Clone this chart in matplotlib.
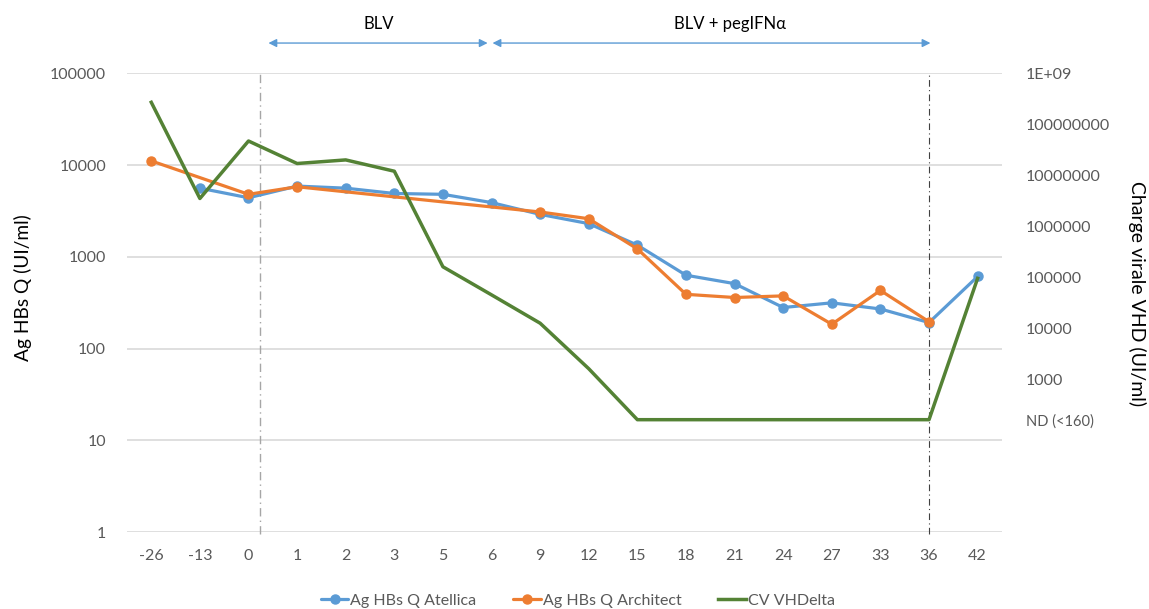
import numpy as np
import matplotlib
matplotlib.use("Agg")
import matplotlib.pyplot as plt
from matplotlib.ticker import FixedLocator, FixedFormatter, NullLocator

plt.rcParams['font.family'] = ['Lato', 'DejaVu Sans']

# ---- data ----
categories = ['-26', '-13', '0', '1', '2', '3', '5', '6', '9', '12', '15',
              '18', '21', '24', '27', '33', '36', '42']
atellica = [np.nan, 5600, 4400, 5900, 5600, 4900, 4800, 3900, 2900, 2300,
            1340, 630, 510, 280, 315, 270, 192, 610]
architect = [11100, np.nan, 4800, 5800, np.nan, np.nan, np.nan, np.nan, 3080,
             2600, 1220, 390, 360, 375, 184, 430, 196, np.nan]
cv_vhdelta = [2.7e8, 3.5e6, 4.7e7, 1.7e7, 2.0e7, 1.2e7, 1.6e5, 4.5e4, 1.25e4,
              1.6e3, 160, 160, 160, 160, 160, 160, 160, 9.5e4]
left_ticks = [1, 10, 100, 1000, 10000, 100000]
left_labels = ['1', '10', '100', '1000', '10000', '100000']
right_ticks = [160, 1e3, 1e4, 1e5, 1e6, 1e7, 1e8, 1e9]
right_labels = ['ND (<160)', '1000', '10000', '100000', '1000000',
                '10000000', '100000000', '1E+09']
series_names = ['Ag HBs Q Atellica', 'Ag HBs Q Architect', 'CV VHDelta']
phases = ['BLV', 'BLV + pegIFNα']

BLUE = '#5B9BD5'
ORANGE = '#ED7D31'
GREEN = '#548235'
GRID = '#D9D9D9'
TXT = '#595959'

fig = plt.figure(figsize=(11.49, 6.09), dpi=100)
ax = fig.add_axes([0.1105, 0.1264, 0.7615, 0.7532])
x = np.arange(len(categories))

def valid(vals):
    v = np.array(vals, dtype=float)
    m = ~np.isnan(v)
    return x[m], v[m]

xa, ya = valid(atellica)
xb, yb = valid(architect)
l1, = ax.plot(xa, ya, color=BLUE, lw=2.3, marker='o', ms=6.5, zorder=3,
              solid_capstyle='round')
l2, = ax.plot(xb, yb, color=ORANGE, lw=2.3, marker='o', ms=6.5, zorder=4,
              solid_capstyle='round')

ax.set_yscale('log')
ax.set_ylim(1, 1e5)
ax.set_xlim(-0.5, len(categories) - 0.5)
ax.yaxis.set_major_locator(FixedLocator(left_ticks))
ax.yaxis.set_major_formatter(FixedFormatter(left_labels))
ax.yaxis.set_minor_locator(NullLocator())
ax.set_xticks(x)
ax.set_xticklabels(categories)
ax.grid(axis='y', color=GRID, lw=1.2)
ax.set_axisbelow(True)
for s in ax.spines.values():
    s.set_visible(False)
ax.tick_params(axis='both', length=0, labelsize=11.5, labelcolor=TXT)
ax.tick_params(axis='x', pad=12)
ax.tick_params(axis='y', pad=15)
ax.set_ylabel('Ag HBs Q (UI/ml)', fontsize=13.8)
ax.yaxis.set_label_coords(-0.109, 0.532)

ax2 = ax.twinx()
xc, yc = valid(cv_vhdelta)
l3, = ax2.plot(xc, yc, color=GREEN, lw=2.5, zorder=5)
ax2.set_yscale('log')
ax2.set_ylim(1, 1e9)
ax2.yaxis.set_major_locator(FixedLocator(right_ticks))
ax2.yaxis.set_major_formatter(FixedFormatter(right_labels))
ax2.yaxis.set_minor_locator(NullLocator())
for s in ax2.spines.values():
    s.set_visible(False)
ax2.tick_params(axis='y', length=0, labelsize=11.5, labelcolor=TXT, pad=17)
ax2.get_yticklabels()[0].set_fontsize(10.5)
ax2.set_ylabel('Charge virale VHD (UI/ml)', fontsize=14, rotation=270,
               va='center')
ax2.yaxis.set_label_coords(1.154, 0.52)

# vertical dash-dot markers
trans = ax.get_xaxis_transform()
ax.plot([2.24, 2.24], [-0.005, 1.0], transform=trans, color='#A6A6A6',
        lw=1.0, ls=(0, (6, 3, 1, 3)), zorder=2, clip_on=False)
ax.plot([16.0, 16.0], [-0.005, 1.0], transform=trans, color='#404040',
        lw=0.8, ls=(0, (6, 3, 1, 3)), zorder=2, clip_on=False)

# phase arrows
arrow_kw = dict(arrowstyle='<|-|>', color=BLUE, lw=1.0, mutation_scale=12,
                shrinkA=0, shrinkB=0)
ax.annotate('', xy=(2.41, 1.066), xytext=(6.92, 1.066), xycoords=trans,
            textcoords=trans, arrowprops=arrow_kw, annotation_clip=False)
ax.annotate('', xy=(7.02, 1.066), xytext=(16.03, 1.066), xycoords=trans,
            textcoords=trans, arrowprops=arrow_kw, annotation_clip=False)
ax.text(4.67, 1.108, phases[0], transform=trans, ha='center', va='center',
        fontsize=12, color='black')
ax.text(11.9, 1.108, phases[1], transform=trans, ha='center', va='center',
        fontsize=12, color='black')

fig.legend([l1, l2, l3], series_names, loc='lower center',
           bbox_to_anchor=(0.503, -0.022), ncol=3, frameon=False,
           fontsize=11.5, labelcolor=TXT, handlelength=1.7, handletextpad=0.15,
           columnspacing=2.3)

fig.savefig('out.png', dpi=100)
